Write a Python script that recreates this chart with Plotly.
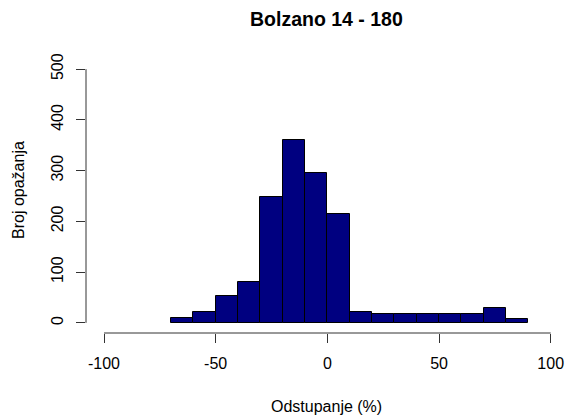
import plotly.graph_objects as go

# Histogram bins (percent deviation) and observation counts
bin_edges = [-70, -60, -50, -40, -30, -20, -10, 0, 10, 20, 30, 40, 50, 60, 70, 80, 90]
counts = [10, 22, 53, 80, 249, 361, 296, 215, 22, 18, 18, 18, 18, 18, 30, 8]
x_ticks = [-100, -50, 0, 50, 100]
y_ticks = [0, 100, 200, 300, 400, 500]

centers = [(a + b) / 2 for a, b in zip(bin_edges[:-1], bin_edges[1:])]
widths = [b - a for a, b in zip(bin_edges[:-1], bin_edges[1:])]

FONT = "Liberation Sans, Arial, sans-serif"
AX = "#333333"

fig = go.Figure(go.Bar(
    x=centers, y=counts, width=widths,
    marker=dict(color="#000080", line=dict(color="black", width=1)),
    hoverinfo="x+y",
))

W, H = 567, 416
L, R, T, B = 86, 1, 59, 83
PW, PH = W - L - R, H - T - B

fig.update_layout(
    width=W, height=H,
    margin=dict(l=L, r=R, t=T, b=B),
    plot_bgcolor="white", paper_bgcolor="white",
    showlegend=False, bargap=0,
    font=dict(family=FONT, size=16, color="black"),
)
fig.update_xaxes(
    range=[-108.06, 106.85], tickvals=x_ticks, ticktext=[str(v) for v in x_ticks],
    ticks="outside", ticklen=9, tickcolor=AX, tickwidth=1,
    showgrid=False, zeroline=False, showline=False,
    tickfont=dict(family=FONT, size=16), ticklabelstandoff=7,
)
fig.update_yaxes(
    range=[-20, 520], tickvals=y_ticks, ticktext=[str(v) for v in y_ticks],
    ticks="outside", ticklen=9, tickcolor=AX, tickwidth=1, tickangle=-90,
    showgrid=False, zeroline=False, showline=False,
    tickfont=dict(family=FONT, size=16), ticklabelstandoff=7,
)

# Axis lines spanning only the first to last tick
fig.add_shape(type="line", xref="x", yref="paper", x0=x_ticks[0], x1=x_ticks[-1],
              y0=0, y1=0, line=dict(color=AX, width=1))
fig.add_shape(type="line", xref="paper", yref="y", x0=0, x1=0,
              y0=y_ticks[0], y1=y_ticks[-1], line=dict(color=AX, width=1))

fig.add_annotation(text="<b>Bolzano 14 - 180</b>", xref="paper", yref="paper",
                   x=0.5, y=1 + (T - 19) / PH,
                   showarrow=False, font=dict(family=FONT, size=19.5),
                   xanchor="center", yanchor="middle")
fig.add_annotation(text="Odstupanje (%)", xref="paper", yref="paper",
                   x=0.5, y=-(406 - (H - B)) / PH,
                   showarrow=False, font=dict(family=FONT, size=16),
                   xanchor="center", yanchor="middle")
fig.add_annotation(text="Broj opažanja", xref="paper", yref="paper",
                   x=-(L - 18) / PW, y=((H - B) - 190) / PH,
                   textangle=-90, showarrow=False, font=dict(family=FONT, size=16),
                   xanchor="center", yanchor="middle")

fig.write_html("out.html")
